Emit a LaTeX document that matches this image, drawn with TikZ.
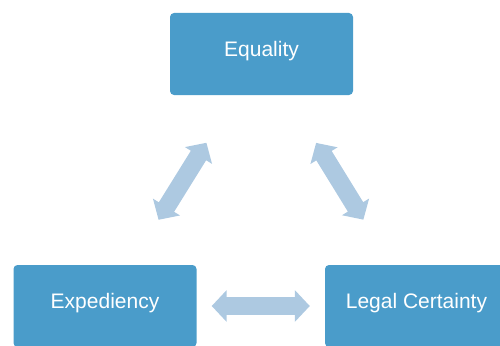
\documentclass[tikz,border=0pt]{standalone}
\usepackage{fontspec}
\setmainfont{Liberation Sans}
\usetikzlibrary{arrows.meta}

\definecolor{boxblue}{RGB}{74,156,202}
\definecolor{arrowblue}{RGB}{173,201,225}

\tikzset{
  valuebox/.style={rectangle,rounded corners=4pt,fill=boxblue,text=white,
    minimum width=183pt,minimum height=82pt,inner sep=0pt,
    text height=16pt,text depth=11.5pt,font=\fontsize{21}{25}\selectfont},
  linkarrow/.style={arrowblue,line width=18pt,
    {Triangle[length=15pt,width=31pt]}-{Triangle[length=15pt,width=31pt]}}
}

\begin{document}
\begin{tikzpicture}[x=1pt,y=-1pt]
\useasboundingbox (0,0) rectangle (500,345);

\node[valuebox] (equality) at (261.5,54) {Equality};
\node[valuebox] (expediency) at (105,306) {Expediency};
\node[valuebox] (certainty) at (416.5,306) {Legal Certainty};

\draw[linkarrow,shorten <=56pt,shorten >=53pt] (equality) -- (expediency);
\draw[linkarrow,shorten <=56pt,shorten >=53pt] (equality) -- (certainty);
\draw[linkarrow,shorten <=15pt,shorten >=15pt] (expediency) -- (certainty);

\end{tikzpicture}
\end{document}
